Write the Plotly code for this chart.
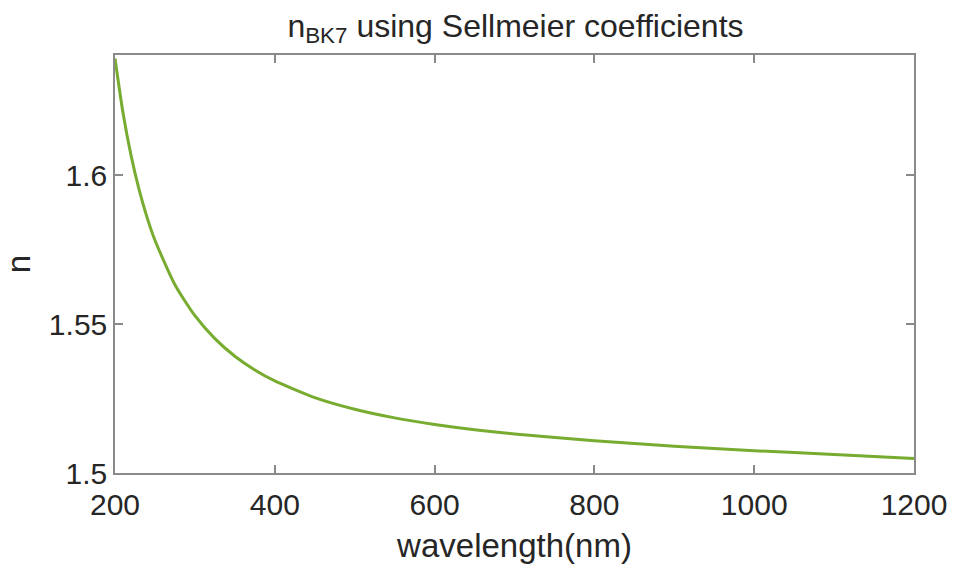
import plotly.graph_objects as go

wavelength_nm = [200, 210, 220, 230, 240, 250, 275, 300, 325, 350, 375, 400, 450,
                 500, 550, 600, 650, 700, 800, 900, 1000, 1100, 1200]
n_bk7 = [1.6391, 1.6209, 1.6067, 1.5953, 1.5859, 1.5781, 1.5632, 1.5528, 1.5451,
         1.5392, 1.5346, 1.5309, 1.5253, 1.5214, 1.5185, 1.5163, 1.5145, 1.5131,
         1.5108, 1.5090, 1.5075, 1.5062, 1.5049]

x_ticks = [200, 400, 600, 800, 1000, 1200]
y_ticks = [1.5, 1.55, 1.6]
y_tick_text = ["1.5", "1.55", "1.6"]

FONT = "Liberation Sans, Arial, Helvetica, sans-serif"
TXT = "#262626"
AX = "#8a8a8a"

fig = go.Figure()
fig.add_trace(go.Scatter(x=wavelength_nm, y=n_bk7, mode="lines",
                         line=dict(color="#77AC30", width=3, shape="spline", smoothing=0.6),
                         showlegend=False, hoverinfo="x+y"))

fig.update_layout(
    width=959, height=572,
    margin=dict(l=115, r=43, t=55, b=99),
    paper_bgcolor="white", plot_bgcolor="white",
    font=dict(family=FONT, color=TXT, size=30),
    title=dict(text="n<sub>BK7</sub> using Sellmeier coefficients",
               x=0.5375, xanchor="center", y=0.975, yanchor="top",
               font=dict(size=32, color=TXT, family=FONT)),
)
fig.update_xaxes(range=[200, 1200], tickvals=x_ticks, ticktext=[str(v) for v in x_ticks],
                 ticks="inside", ticklen=8, tickcolor=AX, tickwidth=1.5,
                 showline=True, linecolor=AX, linewidth=1.5, mirror="ticks",
                 showgrid=False, zeroline=False, ticklabelstandoff=4,
                 tickfont=dict(size=30, color=TXT, family=FONT),
                 title=dict(text="wavelength(nm)", standoff=14,
                            font=dict(size=33, color=TXT, family=FONT)))
fig.update_yaxes(range=[1.5, 1.6403], tickvals=y_ticks, ticktext=y_tick_text,
                 ticks="inside", ticklen=8, tickcolor=AX, tickwidth=1.5,
                 showline=True, linecolor=AX, linewidth=1.5, mirror="ticks",
                 showgrid=False, zeroline=False,
                 tickfont=dict(size=30, color=TXT, family=FONT),
                 title=dict(text="n", standoff=14,
                            font=dict(size=33, color=TXT, family=FONT)))

fig.write_html("out.html")
